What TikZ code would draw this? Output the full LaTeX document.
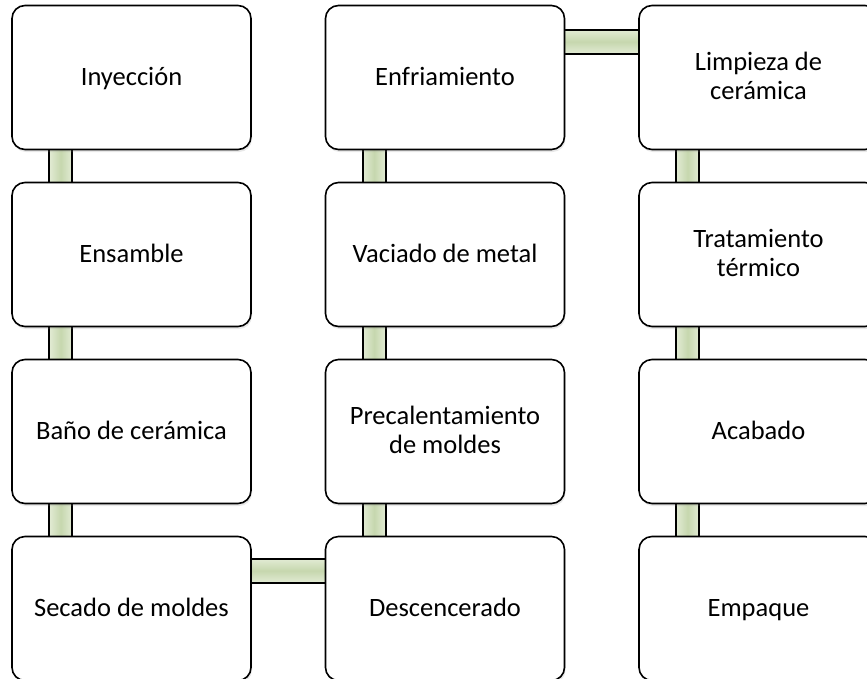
\documentclass[tikz,border=0pt]{standalone}
\usepackage{fontspec}
\setmainfont{Carlito}
\usetikzlibrary{calc,shadows,backgrounds}
\definecolor{verde}{RGB}{198,215,174}
\definecolor{verdeclaro}{RGB}{226,235,212}
\tikzset{ p/.style = { rectangle % process step
, rounded corners = 13pt
, draw
, line width = 1.6pt
, fill = white
, minimum width = 239pt
, minimum height = 144pt
, align = center
, font = \fontsize{26.5}{29}\selectfont
, drop shadow = {opacity=0.18, shadow xshift=1pt, shadow yshift=-2.5pt}
}
, cv/.style = { line width = 1.6pt % vertical link
, draw
, left color = verdeclaro
, right color = verdeclaro
, middle color = verde
}
, ch/.style = { line width = 1.6pt % horizontal link
, draw
, top color = verdeclaro
, bottom color = verdeclaro
, middle color = verde
}
}
\newcommand{\sube}{\rule{0pt}{20pt}}
\newcommand{\baja}{\rule[-5pt]{0pt}{5pt}}
\def\paso(#1,#2)#3#4{% process step
\pgfmathsetmacro{\x}{131.5+313.5*(#2-1)}
\pgfmathsetmacro{\y}{77.5+177*(#1-1)}
\node[p] (#3) at (\x,\y) {\sube#4\baja};
}
\def\bajar(#1)(#2){% vertical link
\path[cv] ($(#1.south west)+(38,-6)$) rectangle ($(#2.north west)+(61,6)$);
}

\begin{document}
\begin{tikzpicture}[x=1pt, y=-1pt]
\useasboundingbox (0,0) rectangle (867,678);
\paso(1,1){iny}{Inyección}
\paso(2,1){ens}{Ensamble}
\paso(3,1){ban}{Baño de cerámica}
\paso(4,1){sec}{Secado de moldes}
\paso(4,2){des}{Descencerado}
\paso(3,2){pre}{Precalentamiento\\de moldes}
\paso(2,2){vac}{Vaciado de metal}
\paso(1,2){enf}{Enfriamiento}
\paso(1,3){lim}{Limpieza de\\cerámica}
\paso(2,3){tra}{Tratamiento\\térmico}
\paso(3,3){aca}{Acabado}
\paso(4,3){emp}{Empaque}
\begin{scope}[on background layer]
\bajar(iny)(ens) \bajar(ens)(ban) \bajar(ban)(sec)
\bajar(pre)(vac) \bajar(des)(pre) \bajar(vac)(enf)
\bajar(lim)(tra) \bajar(tra)(aca) \bajar(aca)(emp)
\path[ch] ($(sec.north east)+(-6,23)$) rectangle ($(des.north west)+(6,47)$);
\path[ch] ($(enf.north east)+(-6,25)$) rectangle ($(lim.north west)+(6,49)$);
\end{scope}
\end{tikzpicture}
\end{document}
